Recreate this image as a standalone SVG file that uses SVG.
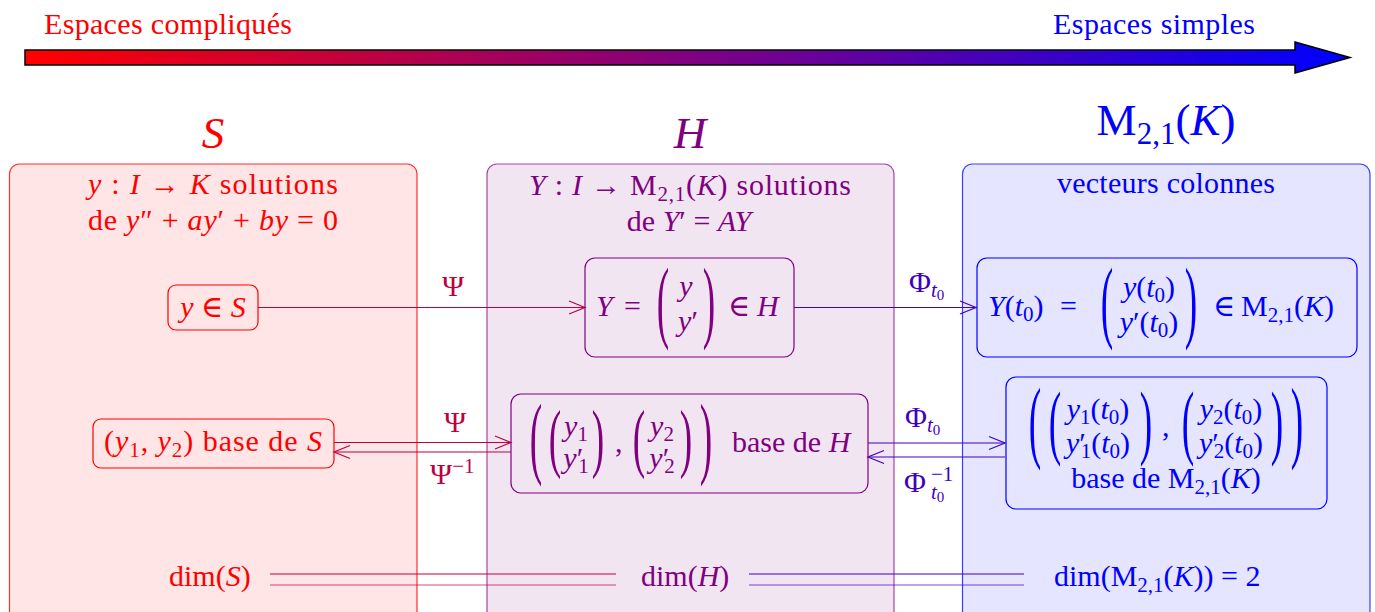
<svg xmlns="http://www.w3.org/2000/svg" width="1375" height="612" viewBox="0 0 1375 612" font-family="'Liberation Serif', 'Times New Roman', Tinos, 'DejaVu Serif', serif">
<defs>
<linearGradient id="grad" gradientUnits="userSpaceOnUse" x1="25" y1="0" x2="1350" y2="0">
<stop offset="0" stop-color="#ff0000"/><stop offset="0.5" stop-color="#800080"/><stop offset="1" stop-color="#0000ff"/>
</linearGradient>
<marker id="hc" markerUnits="userSpaceOnUse" viewBox="-18 -9 20 18" refX="0" refY="0" markerWidth="20" markerHeight="18" orient="auto"><path d="M-16,-6.5 L0,0 L-16,6.5" fill="none" stroke="#bf0040" stroke-width="1.2"/></marker>
<marker id="hi" markerUnits="userSpaceOnUse" viewBox="-18 -9 20 18" refX="0" refY="0" markerWidth="20" markerHeight="18" orient="auto"><path d="M-16,-6.5 L0,0 L-16,6.5" fill="none" stroke="#4000bf" stroke-width="1.2"/></marker>
<style>
text{font-family:'Liberation Serif','Times New Roman',Tinos,'DejaVu Serif',serif}
.t{font-size:30px}
.i{font-style:italic}
.s{font-size:21px}
.ss{font-size:15px}
.big{font-size:45px}
.bs{font-size:31px}
.p{font-size:34px;text-anchor:middle}
.m{text-anchor:middle}
.red{fill:#ff0000}.pur{fill:#800080}.blu{fill:#0000ff}.cri{fill:#bf0040}.ind{fill:#4000bf}
.c1{stroke:#bf0040;stroke-width:1.2;fill:none}
.c2{stroke:#4000bf;stroke-width:1.2;fill:none}
.nb{fill:none;stroke-width:1.2}
</style>
</defs>

<g id="scale-arrow">
<path d="M25,50 H1295 V42 L1350,57.5 L1295,73 V65 H25 Z" fill="url(#grad)" stroke="#000" stroke-width="1.5"/>
<text class="t red" x="44" y="34" textLength="248">Espaces compliqués</text>
<text class="t blu" x="1053" y="34" textLength="202">Espaces simples</text>
</g>

<g id="space-S">
<rect x="9.5" y="164" width="407.5" height="470" rx="10" fill="#ffe5e5" stroke="#ff0000" stroke-opacity="0.8" stroke-width="1.2"/>
<text class="t i big red m" x="213" y="148">S</text>
<text class="t red m" x="213" y="194" textLength="250"><tspan class="i">y</tspan> : <tspan class="i">I</tspan> → <tspan class="i">K</tspan> solutions</text>
<text class="t red m" x="213" y="230" textLength="250">de <tspan class="i">y</tspan>″ + <tspan class="i">ay</tspan>′ + <tspan class="i">by</tspan> = 0</text>
</g>

<g id="space-H">
<rect x="487" y="164" width="407" height="470" rx="10" fill="#f2e5f2" stroke="#800080" stroke-opacity="0.7" stroke-width="1.2"/>
<text class="t i big pur m" x="690" y="148">H</text>
<text class="t pur m" x="690" y="195" textLength="322"><tspan class="i">Y</tspan> : <tspan class="i">I</tspan> → M<tspan class="s" dy="6">2,1</tspan><tspan dy="-6">(</tspan><tspan class="i">K</tspan>) solutions</text>
<text class="t pur m" x="689" y="231">de <tspan class="i">Y</tspan>′ = <tspan class="i">AY</tspan></text>
</g>

<g id="space-M">
<rect x="962.5" y="164" width="407.5" height="470" rx="10" fill="#e5e5ff" stroke="#0000ff" stroke-opacity="0.75" stroke-width="1.2"/>
<text class="t big blu m" x="1166" y="135">M<tspan class="bs" dy="9">2,1</tspan><tspan dy="-9">(</tspan><tspan class="i">K</tspan>)</text>
<text class="t blu m" x="1166" y="193" textLength="218">vecteurs colonnes</text>
</g>

<g id="connectors">
<line x1="258" y1="307.5" x2="585" y2="307.5" class="c1" marker-end="url(#hc)"/>
<line x1="794" y1="307.5" x2="976" y2="307.5" class="c2" marker-end="url(#hi)"/>
<line x1="334" y1="442.5" x2="511" y2="442.5" class="c1" marker-end="url(#hc)"/>
<line x1="511" y1="452" x2="334" y2="452" class="c1" marker-end="url(#hc)"/>
<line x1="868" y1="443" x2="1005" y2="443" class="c2" marker-end="url(#hi)"/>
<line x1="1005" y1="457" x2="868" y2="457" class="c2" marker-end="url(#hi)"/>
<line x1="270" y1="574" x2="616" y2="574" class="c1"/>
<line x1="270" y1="585" x2="616" y2="585" class="c1" stroke-opacity="0.7"/>
<line x1="749" y1="574" x2="1024" y2="574" class="c2"/>
<line x1="749" y1="585" x2="1024" y2="585" class="c2" stroke-opacity="0.7"/>
<text class="t cri m" x="453" y="296">Ψ</text>
<text class="t ind" x="909" y="292">Φ<tspan class="s i" dy="5">t</tspan><tspan class="ss" dy="3">0</tspan></text>
<text class="t cri m" x="455" y="432">Ψ</text>
<text class="t cri" x="430" y="484">Ψ<tspan class="s" dy="-11">−1</tspan></text>
<text class="t ind" x="905" y="427">Φ<tspan class="s i" dy="5">t</tspan><tspan class="ss" dy="3">0</tspan></text>
<text class="t ind" x="904" y="492">Φ</text>
<text class="t s ind" x="931" y="481">−1</text>
<text class="t s ind" x="931" y="499"><tspan class="i">t</tspan><tspan class="ss" dy="3">0</tspan></text>
</g>

<g id="node-y">
<rect x="168" y="285" width="90" height="45" rx="8" class="nb" stroke="#ff0000"/>
<text class="t red m" x="213" y="317"><tspan class="i">y</tspan> ∈ <tspan class="i">S</tspan></text>
</g>

<g id="node-Y">
<rect x="585" y="258" width="209" height="99" rx="10" class="nb" stroke="#800080"/>
<text class="t pur" y="316"><tspan class="i" x="596">Y</tspan><tspan x="624">=</tspan></text>
<text class="p pur" transform="translate(663,330.9) scale(1.1,2.669)">(</text>
<text class="t pur m" x="686" y="296"><tspan class="i">y</tspan></text>
<text class="t pur m" x="688" y="331"><tspan class="i">y</tspan>′</text>
<text class="p pur" transform="translate(709,330.9) scale(1.1,2.669)">)</text>
<text class="t pur" y="316"><tspan x="728">∈</tspan><tspan class="i" x="757">H</tspan></text>
</g>

<g id="node-Yt0">
<rect x="977" y="258" width="380" height="99" rx="10" class="nb" stroke="#0000ff"/>
<text class="t blu" y="316"><tspan class="i" x="988">Y</tspan><tspan>(</tspan><tspan class="i">t</tspan><tspan class="s" dy="5">0</tspan><tspan dy="-5">)</tspan><tspan x="1060">=</tspan></text>
<text class="p blu" transform="translate(1107,330.9) scale(1.1,2.669)">(</text>
<text class="t blu m" x="1149" y="297"><tspan class="i">y</tspan>(<tspan class="i">t</tspan><tspan class="s" dy="5">0</tspan><tspan dy="-5">)</tspan></text>
<text class="t blu m" x="1149" y="332"><tspan class="i">y</tspan>′(<tspan class="i">t</tspan><tspan class="s" dy="5">0</tspan><tspan dy="-5">)</tspan></text>
<text class="p blu" transform="translate(1191,330.9) scale(1.1,2.669)">)</text>
<text class="t blu" y="316"><tspan x="1213">∈</tspan><tspan x="1241">M</tspan><tspan class="s" dy="6">2,1</tspan><tspan dy="-6">(</tspan><tspan class="i">K</tspan>)</text>
</g>

<g id="node-baseS">
<rect x="93" y="419" width="241" height="49" rx="8" class="nb" stroke="#ff0000"/>
<text class="t red m" x="213" y="451" textLength="218">(<tspan class="i">y</tspan><tspan class="s" dy="6">1</tspan><tspan dy="-6">, </tspan><tspan class="i">y</tspan><tspan class="s" dy="6">2</tspan><tspan dy="-6">) base de </tspan><tspan class="i">S</tspan></text>
</g>

<g id="node-baseH">
<rect x="511" y="394" width="357" height="99" rx="10" class="nb" stroke="#800080"/>
<text class="p pur" transform="translate(536,466.7) scale(1.1,2.703)">(</text>
<text class="p pur" transform="translate(555,463.4) scale(1.1,2.264)">(</text>
<text class="t pur m" x="576" y="436"><tspan class="i">y</tspan><tspan class="s" dy="5">1</tspan></text>
<text class="t pur m" x="576" y="468"><tspan class="i">y</tspan>′<tspan class="s" dx="-5" dy="5">1</tspan></text>
<text class="p pur" transform="translate(598,463.4) scale(1.1,2.264)">)</text>
<text class="t pur" x="615" y="452">,</text>
<text class="p pur" transform="translate(639,463.4) scale(1.1,2.264)">(</text>
<text class="t pur m" x="662" y="436"><tspan class="i">y</tspan><tspan class="s" dy="5">2</tspan></text>
<text class="t pur m" x="662" y="468"><tspan class="i">y</tspan>′<tspan class="s" dx="-5" dy="5">2</tspan></text>
<text class="p pur" transform="translate(686,463.4) scale(1.1,2.264)">)</text>
<text class="p pur" transform="translate(706,466.7) scale(1.1,2.703)">)</text>
<text class="t pur" x="732" y="452">base de <tspan class="i">H</tspan></text>
</g>

<g id="node-baseM">
<rect x="1006" y="377" width="321" height="132" rx="10" class="nb" stroke="#0000ff"/>
<text class="p blu" transform="translate(1035,450.9) scale(1.1,2.669)">(</text>
<text class="p blu" transform="translate(1055,448.6) scale(1.1,2.399)">(</text>
<text class="t blu m" x="1098" y="419"><tspan class="i">y</tspan><tspan class="s" dy="5">1</tspan><tspan dy="-5">(</tspan><tspan class="i">t</tspan><tspan class="s" dy="5">0</tspan><tspan dy="-5">)</tspan></text>
<text class="t blu m" x="1098" y="453"><tspan class="i">y</tspan>′<tspan class="s" dx="-5" dy="5">1</tspan><tspan dy="-5">(</tspan><tspan class="i">t</tspan><tspan class="s" dy="5">0</tspan><tspan dy="-5">)</tspan></text>
<text class="p blu" transform="translate(1146,448.6) scale(1.1,2.399)">)</text>
<text class="t blu" x="1162" y="436">,</text>
<text class="p blu" transform="translate(1188,448.6) scale(1.1,2.399)">(</text>
<text class="t blu m" x="1231" y="419"><tspan class="i">y</tspan><tspan class="s" dy="5">2</tspan><tspan dy="-5">(</tspan><tspan class="i">t</tspan><tspan class="s" dy="5">0</tspan><tspan dy="-5">)</tspan></text>
<text class="t blu m" x="1231" y="453"><tspan class="i">y</tspan>′<tspan class="s" dx="-5" dy="5">2</tspan><tspan dy="-5">(</tspan><tspan class="i">t</tspan><tspan class="s" dy="5">0</tspan><tspan dy="-5">)</tspan></text>
<text class="p blu" transform="translate(1277,448.6) scale(1.1,2.399)">)</text>
<text class="p blu" transform="translate(1297,450.9) scale(1.1,2.669)">)</text>
<text class="t blu m" x="1166" y="488">base de M<tspan class="s" dy="6">2,1</tspan><tspan dy="-6">(</tspan><tspan class="i">K</tspan>)</text>
</g>

<g id="node-dimS">
<text class="t red" x="169" y="586">dim(<tspan class="i">S</tspan>)</text>
</g>
<g id="node-dimH">
<text class="t pur" x="641" y="586">dim(<tspan class="i">H</tspan>)</text>
</g>
<g id="node-dimM">
<text class="t blu" x="1054" y="586">dim(M<tspan class="s" dy="6">2,1</tspan><tspan dy="-6">(</tspan><tspan class="i">K</tspan>)) = 2</text>
</g>
</svg>
